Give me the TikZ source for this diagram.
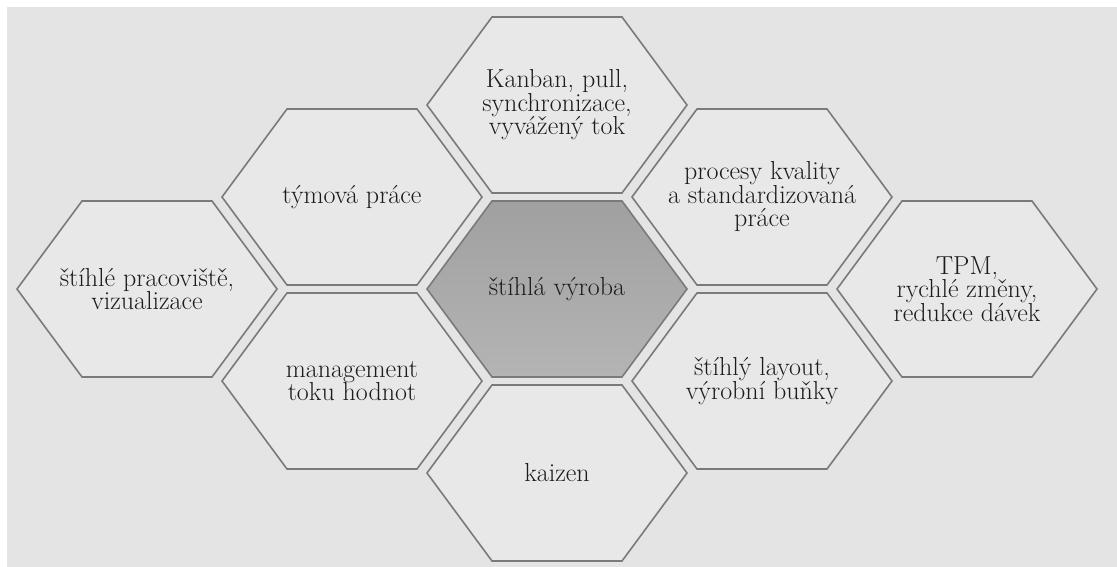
\documentclass[tikz,border=0pt]{standalone}
\usepackage{fontspec}
\usetikzlibrary{calc}
\definecolor{pagegray}{HTML}{E4E4E4}
\definecolor{cellgray}{HTML}{E8E8E8}
\definecolor{hexgray}{HTML}{7A7A7A}
\definecolor{textgray}{HTML}{1C1C1C}
\definecolor{coretop}{HTML}{A0A0A0}
\definecolor{corebot}{HTML}{B4B4B4}
\tikzset{
  hexline/.style={draw=hexgray, line width=1.6pt, line join=miter, fill=cellgray},
  corefill/.style={top color=coretop, bottom color=corebot},
  hexlabel/.style={text=textgray, font=\rmfamily\fontsize{26}{23.5}\selectfont, align=center, inner sep=0pt}
}
\newcommand\hexcell[4][]{%
  \path[hexline,#1] ($(#3)+(-130,0)$) -- ++(65,-88) -- ++(130,0) -- ++(65,88)
     -- ++(-65,88) -- ++(-130,0) -- cycle;
  \node[hexlabel] (#2) at (#3) {#4};
}
\begin{document}
\begin{tikzpicture}[x=1pt,y=-1pt]
\useasboundingbox (0,0) rectangle (1117,567);
\fill[white] (0,0) rectangle (1117,567);
\fill[pagegray] (7,7) rectangle (1117,567);
\coordinate (pKanban) at (557,105);
\coordinate (pTeam) at (352,197);
\coordinate (pQuality) at (762,197);
\coordinate (pWork) at (147,289);
\coordinate (pCore) at (557,289);
\coordinate (pTPM) at (967,289);
\coordinate (pValue) at (352,381);
\coordinate (pLayout) at (762,381);
\coordinate (pKaizen) at (557,473);
\hexcell{kanban}{pKanban}{Kanban, pull,\\synchronizace,\\vyvážený tok}
\hexcell{team}{pTeam}{týmová práce}
\hexcell{quality}{pQuality}{procesy kvality\\a standardizovaná\\práce}
\hexcell{work}{pWork}{štíhlé pracoviště,\\vizualizace}
\hexcell[corefill]{core}{pCore}{štíhlá výroba}
\hexcell{tpm}{pTPM}{TPM,\\rychlé změny,\\redukce dávek}
\hexcell{value}{pValue}{management\\toku hodnot}
\hexcell{layout}{pLayout}{štíhlý layout,\\výrobní buňky}
\hexcell{kaizen}{pKaizen}{kaizen}
\end{tikzpicture}
\end{document}
